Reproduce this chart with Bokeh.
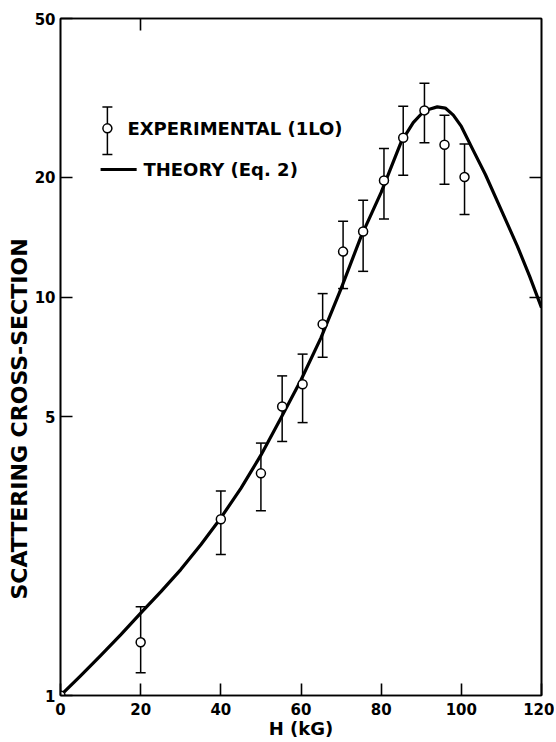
import math
from bokeh.plotting import figure
from bokeh.models import (ColumnDataSource, Whisker, TeeHead, FixedTicker,
                          LogAxis, LinearAxis, Label, Range1d, Title)
from bokeh.embed import file_html
from bokeh.resources import INLINE

# ---- data ----
exp_h = [0, 20, 40, 50, 55.3, 60.4, 65.4, 70.5, 75.5, 80.7, 85.5, 90.8, 95.8, 100.8]
exp_s = [1.0, 1.36, 2.77, 3.61, 5.31, 6.04, 8.55, 13.0, 14.6, 19.6, 25.1, 29.4, 24.1, 20.0]
exp_hi = [float("nan"), 1.67, 3.26, 4.30, 6.34, 7.19, 10.2, 15.5, 17.5, 23.6, 30.1, 34.4, 28.6, 24.2]
exp_lo = [float("nan"), 1.14, 2.26, 2.91, 4.34, 4.84, 7.06, 10.5, 11.6, 15.7, 20.2, 24.4, 19.2, 16.1]

theory_h = [0, 5, 10, 15, 20, 25, 30, 35, 40, 45, 50, 55, 60, 65, 70, 75, 80,
            85, 88, 90, 92, 94, 96, 98, 100, 103, 106, 110, 114, 117, 120]
theory_s = [1.00, 1.12, 1.26, 1.42, 1.61, 1.82, 2.07, 2.39, 2.79, 3.31, 4.01, 4.97,
            6.19, 7.91, 10.5, 14.2, 18.3, 24.5, 27.4, 28.8, 29.6, 30.0, 29.8, 28.6,
            26.8, 23.3, 20.3, 16.5, 13.4, 11.3, 9.40]

x_ticks = [0, 20, 40, 60, 80, 100, 120]
x_tick_labels = ["0", "20", "40", "60", "80", "100", "120"]
y_ticks = [1, 5, 10, 20, 50]
y_tick_labels = ["1", "5", "10", "20", "50"]
right_ticks = [10, 20]
top_ticks = [20]

x_title = "H (kG)"
y_title = "SCATTERING CROSS-SECTION"
exp_label = "EXPERIMENTAL (1LO)"
theory_label = "THEORY (Eq. 2)"

# ---- placement constants (data units) ----
LEG_X = 11.7
LEG_Y_EXP, LEG_Y_EXP_HI, LEG_Y_EXP_LO = 26.5, 30.0, 22.8
LEG_Y_TH = 20.9
LEG_LINE_X0, LEG_LINE_X1 = 10.0, 19.0
LEG_TEXT_X1, LEG_TEXT_X2 = 16.7, 20.7

FONT = "DejaVu Sans"
INK = "black"

p = figure(width=554, height=741, x_range=Range1d(0, 120), y_range=Range1d(1, 50),
           y_axis_type="log", output_backend="svg", toolbar_location=None,
           min_border_left=60, min_border_right=13, min_border_top=18,
           min_border_bottom=10)
p.grid.visible = False
p.outline_line_color = INK
p.outline_line_width = 1.6
p.background_fill_color = "white"
p.border_fill_color = "white"

# bottom axis
xa = p.xaxis[0]
xa.ticker = FixedTicker(ticks=x_ticks)
xa.major_label_overrides = dict(zip(x_ticks, x_tick_labels))
xa.major_tick_in = 12
xa.major_tick_out = 0
xa.minor_tick_line_color = None
xa.axis_line_width = 1.6
xa.axis_line_color = INK
xa.major_tick_line_width = 1.6
xa.major_tick_line_color = INK
xa.major_label_standoff = 7
xa.major_label_text_font = FONT
xa.major_label_text_font_size = "15px"
xa.major_label_text_font_style = "bold"
xa.major_label_text_color = INK
xa.axis_label = x_title
xa.axis_label_text_font = FONT
xa.axis_label_text_font_size = "18px"
xa.axis_label_text_font_style = "bold"
xa.axis_label_text_color = INK
xa.axis_label_standoff = 0

# left axis
ya = p.yaxis[0]
ya.ticker = FixedTicker(ticks=y_ticks)
ya.major_label_overrides = dict(zip(y_ticks, y_tick_labels))
ya.major_tick_in = 12
ya.major_tick_out = 0
ya.minor_tick_line_color = None
ya.axis_line_width = 1.6
ya.axis_line_color = INK
ya.major_tick_line_width = 1.6
ya.major_tick_line_color = INK
ya.major_label_standoff = 5
ya.major_label_text_font = FONT
ya.major_label_text_font_size = "15px"
ya.major_label_text_font_style = "bold"
ya.major_label_text_color = INK

# y title, placed in the left panel, shifted down from the centre like the original
p.add_layout(Title(text=y_title, align="left", offset=96, standoff=0,
                   text_font=FONT, text_font_size="22px", text_font_style="bold",
                   text_color=INK), "left")

# right and top axes (inward ticks only)
ra = LogAxis(ticker=FixedTicker(ticks=right_ticks), major_tick_in=12, major_tick_out=0,
             minor_tick_line_color=None, axis_line_width=1.6, major_tick_line_width=1.6,
             axis_line_color=INK, major_tick_line_color=INK,
             major_label_overrides={t: "" for t in right_ticks},
             major_label_text_color=None, major_label_standoff=0)
p.add_layout(ra, "right")
ta = LinearAxis(ticker=FixedTicker(ticks=top_ticks), major_tick_in=12, major_tick_out=0,
                minor_tick_line_color=None, axis_line_width=1.6, major_tick_line_width=1.6,
                axis_line_color=INK, major_tick_line_color=INK,
                major_label_overrides={t: "" for t in top_ticks},
                major_label_text_color=None, major_label_standoff=0)
p.add_layout(ta, "above")

# theory curve
p.line(theory_h, theory_s, line_color=INK, line_width=3.2, line_join="round")

# error bars
src = ColumnDataSource(dict(h=exp_h, s=exp_s, hi=exp_hi, lo=exp_lo))
w = Whisker(source=src, base="h", upper="hi", lower="lo", line_width=1.5,
            line_color=INK,
            upper_head=TeeHead(size=10, line_width=1.5, line_color=INK),
            lower_head=TeeHead(size=10, line_width=1.5, line_color=INK))
p.add_layout(w)

p.scatter("h", "s", source=src, size=9, fill_color="white", line_color=INK,
          line_width=1.5)

# legend keys
leg_src = ColumnDataSource(dict(h=[LEG_X], s=[LEG_Y_EXP], hi=[LEG_Y_EXP_HI], lo=[LEG_Y_EXP_LO]))
p.add_layout(Whisker(source=leg_src, base="h", upper="hi", lower="lo", line_width=1.5,
                     line_color=INK,
                     upper_head=TeeHead(size=10, line_width=1.5, line_color=INK),
                     lower_head=TeeHead(size=10, line_width=1.5, line_color=INK)))
p.scatter("h", "s", source=leg_src, size=9, fill_color="white", line_color=INK,
          line_width=1.5)
p.line([LEG_LINE_X0, LEG_LINE_X1], [LEG_Y_TH, LEG_Y_TH], line_color=INK, line_width=3)

p.add_layout(Label(x=LEG_TEXT_X1, y=LEG_Y_EXP, text=exp_label, text_font=FONT,
                   text_font_size="18px", text_font_style="bold", text_baseline="middle",
                   text_color=INK))
p.add_layout(Label(x=LEG_TEXT_X2, y=LEG_Y_TH, text=theory_label, text_font=FONT,
                   text_font_size="18px", text_font_style="bold", text_baseline="middle",
                   text_color=INK))

open("out.html", "w").write(file_html(p, INLINE))
